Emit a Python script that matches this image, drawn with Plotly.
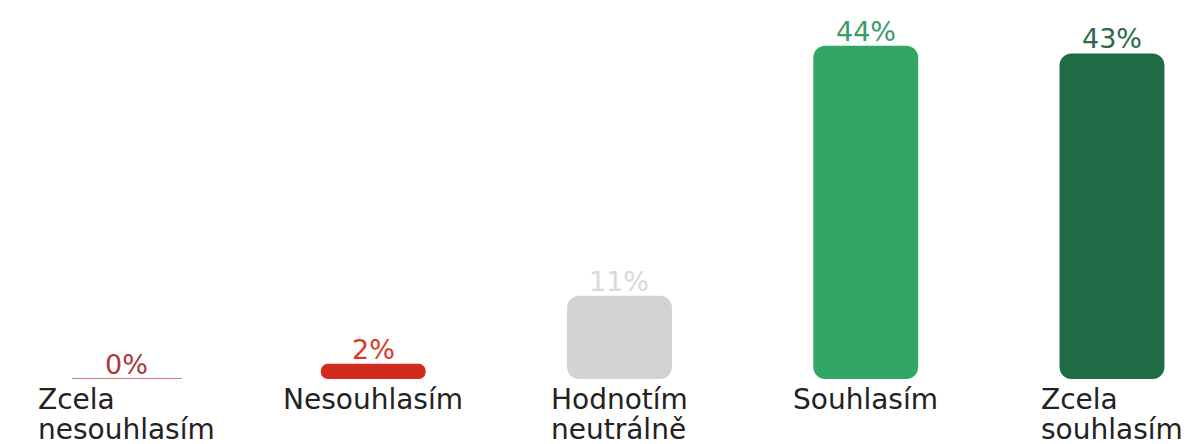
import plotly.graph_objects as go

categories = ["Zcela<br>nesouhlasím", "Nesouhlasím", "Hodnotím<br>neutrálně", "Souhlasím", "Zcela<br>souhlasím"]
values = [0, 2, 11, 44, 43]
labels = ["0%", "2%", "11%", "44%", "43%"]
bar_colors = ["#c0504d", "#d22b1e", "#d3d3d3", "#31a666", "#1e6b45"]
text_colors = ["#a83a3a", "#d9392b", "#d9d9d9", "#3a9d66", "#2b6a4a"]

BAR_W = 0.426
FONT = "DejaVu Sans"
LABEL_PX = 28
xs = list(range(len(categories)))

fig = go.Figure()

# bars (explicit base -> plotly rounds both ends)
fig.add_trace(go.Bar(x=xs, y=values, base=[0] * len(values), width=BAR_W,
                     marker=dict(color=bar_colors, line=dict(width=0)),
                     hoverinfo="skip", showlegend=False))

# zero-valued categories shown as a thin line
for i, v in enumerate(values):
    if v == 0:
        half = BAR_W / 2 + 0.01
        fig.add_trace(go.Scatter(x=[i - half, i + half], y=[v, v], mode="lines",
                                 line=dict(color=bar_colors[i], width=1.5),
                                 hoverinfo="skip", showlegend=False))

# value labels
for i, (v, t) in enumerate(zip(values, labels)):
    fig.add_annotation(x=i, y=v, xref="x", yref="y", text=t, showarrow=False,
                       xanchor="center", yanchor="bottom", yshift=-3,
                       font=dict(family=FONT, size=27, color=text_colors[i]))

# category labels (block centred, lines left-aligned)
for i, c in enumerate(categories):
    fig.add_annotation(x=i, y=0, xref="x", yref="y",
                       text=f'<span style="font-size:{LABEL_PX}px">{c}</span>',
                       showarrow=False,
                       xanchor="center", yanchor="top", align="left", yshift=-2,
                       font=dict(family=FONT, size=23, color="#222222"))

fig.update_layout(
    width=1184, height=436,
    margin=dict(l=0, r=0, t=0, b=65),
    paper_bgcolor="white", plot_bgcolor="white",
    barmode="overlay", barcornerradius=12,
    xaxis=dict(range=[-0.4832, 4.3249], visible=False, fixedrange=True),
    yaxis=dict(range=[0, 49.0], visible=False, fixedrange=True),
    showlegend=False,
)

fig.write_html("out.html")
